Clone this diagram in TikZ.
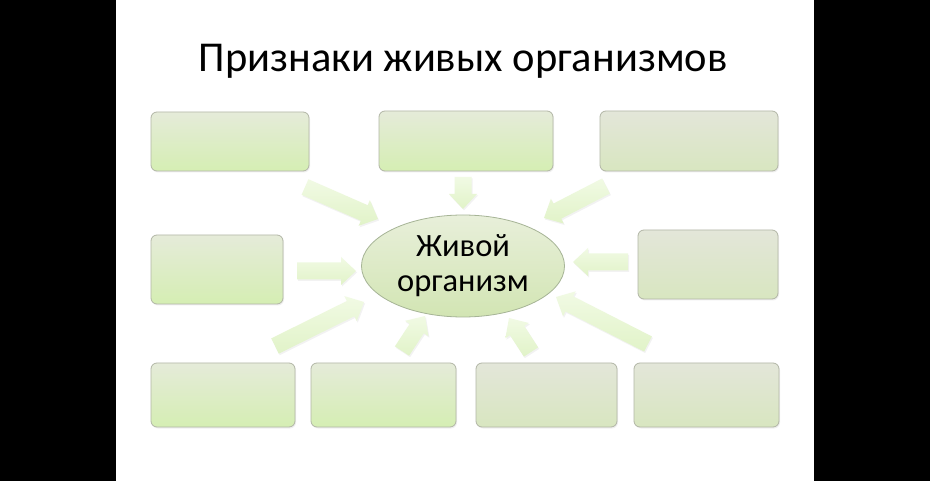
\documentclass[tikz,border=0pt]{standalone}
\usepackage{fontspec}
\setmainfont{Carlito}
\usetikzlibrary{calc,shadows,shapes.geometric}
\definecolor{boxtopG}{HTML}{E5EBD9}
\definecolor{boxbotG}{HTML}{D5EEB3}
\definecolor{boxtopY}{HTML}{E3E6D9}
\definecolor{boxbotY}{HTML}{D8E6C0}
\definecolor{boxline}{HTML}{B2B6A6}
\definecolor{arrtop}{HTML}{F1FAE4}
\definecolor{arrbot}{HTML}{E1F3C8}
\definecolor{elltop}{HTML}{E8EFDA}
\definecolor{ellbot}{HTML}{D2E5B3}
\definecolor{ellline}{HTML}{A6B496}
\tikzset{
  boxG/.style={draw=boxline, line width=0.8pt, rounded corners=6pt, top color=boxtopG, bottom color=boxbotG,
    inner sep=0pt, drop shadow={opacity=0.12, shadow xshift=1pt, shadow yshift=-1.5pt}},
  boxY/.style={boxG, top color=boxtopY, bottom color=boxbotY},
  arrowbody/.style={top color=arrtop, bottom color=arrbot, draw=none,
    drop shadow={opacity=0.10, shadow xshift=1pt, shadow yshift=-1.5pt}},
  centre/.style={ellipse, draw=ellline, line width=0.8pt, top color=elltop, bottom color=ellbot,
    minimum width=203pt, minimum height=102pt, inner sep=0pt},
}
\newcommand{\blockarr}[2]{%
  \coordinate (hb) at ($(#2)!15pt!(#1)$);
  \path[arrowbody] ($(#1)!8.5pt!90:(#2)$) -- ($(hb)!8.5pt!90:(#2)$) -- ($(hb)!14pt!90:(#2)$) -- (#2)
     -- ($(hb)!14pt!-90:(#2)$) -- ($(hb)!8.5pt!-90:(#2)$) -- ($(#1)!8.5pt!-90:(#2)$) -- cycle;}
\begin{document}
\begin{tikzpicture}[x=1pt,y=-1pt]
\fill[black] (0,0) rectangle (930,481);
\fill[white] (116,0) rectangle (814,481);
\useasboundingbox (0,0) rectangle (930,481);

\node[anchor=base, font=\fontsize{42.5}{48}\selectfont] (title) at (463,72) {Признаки живых организмов};

\node[boxG, minimum width=158pt, minimum height=59pt] (tl) at (230,141.5) {};
\node[boxG, minimum width=174pt, minimum height=60pt] (tm) at (466,141) {};
\node[boxY, minimum width=178pt, minimum height=60pt] (tr) at (689,141) {};
\node[boxG, minimum width=132pt, minimum height=69pt] (ml) at (217,269.5) {};
\node[boxY, minimum width=140pt, minimum height=69pt] (mr) at (708,264.5) {};
\node[boxG, minimum width=144pt, minimum height=64pt] (b1) at (223,395) {};
\node[boxG, minimum width=145pt, minimum height=64pt] (b2) at (383.5,395) {};
\node[boxY, minimum width=141pt, minimum height=64pt] (b3) at (546.5,395) {};
\node[boxY, minimum width=145pt, minimum height=64pt] (b4) at (706.5,395) {};

\node[centre] (org) at (463,266) {};
\node[align=center, font=\fontsize{32.5}{35}\selectfont] (orgtext) at (463,266) {Живой\\организм};

\coordinate (a1t) at (305,187); \coordinate (a1h) at (378,219);
\coordinate (a2t) at (463,177); \coordinate (a2h) at (463,209);
\coordinate (a3t) at (606,186); \coordinate (a3h) at (544,218);
\coordinate (a4t) at (297,271); \coordinate (a4h) at (356,271);
\coordinate (a5t) at (628,262); \coordinate (a5h) at (573,262);
\coordinate (a6t) at (275,346); \coordinate (a6h) at (364,302);
\coordinate (a7t) at (402,351); \coordinate (a7h) at (425,316);
\coordinate (a8t) at (531,352); \coordinate (a8h) at (509,318);
\coordinate (a9t) at (648,344); \coordinate (a9h) at (556,297);
\blockarr{a1t}{a1h}
\blockarr{a2t}{a2h}
\blockarr{a3t}{a3h}
\blockarr{a4t}{a4h}
\blockarr{a5t}{a5h}
\blockarr{a6t}{a6h}
\blockarr{a7t}{a7h}
\blockarr{a8t}{a8h}
\blockarr{a9t}{a9h}
\end{tikzpicture}
\end{document}
